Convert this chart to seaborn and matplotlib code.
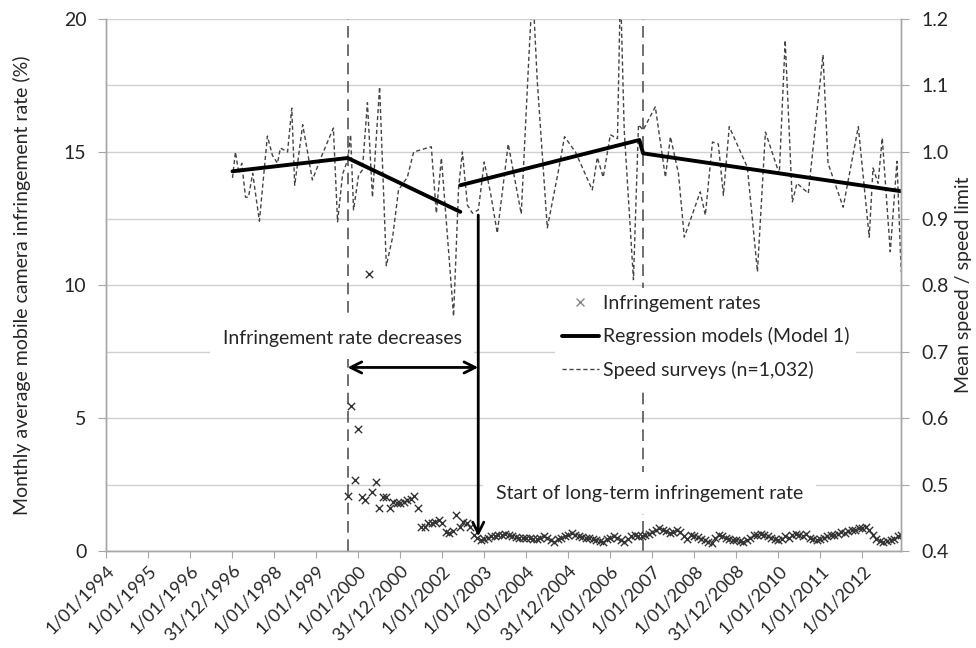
import numpy as np
import pandas as pd
import matplotlib
matplotlib.use("Agg")
import matplotlib.pyplot as plt
import matplotlib.dates as mdates
from matplotlib.lines import Line2D
import seaborn as sns

# ----------------------------------------------------------
# Data
# ----------------------------------------------------------

X_TICK_LABELS = [
    "1/01/1994", "1/01/1995", "1/01/1996", "31/12/1996", "1/01/1998",
    "1/01/1999", "1/01/2000", "31/12/2000", "1/01/2002", "1/01/2003",
    "1/01/2004", "31/12/2004", "1/01/2006", "1/01/2007", "1/01/2008",
    "31/12/2008", "1/01/2010", "1/01/2011", "1/01/2012",
]
AXIS_START = "1994-01-01"
AXIS_END = "2012-12-01"

# monthly infringement rate (%), first month Oct 1999
INFRINGEMENT_START = "1999-10-01"
INFRINGEMENT_RATE = [
    2.05, 5.45, 2.67, 4.57, 2.02, 1.92, 10.4, 2.23, 2.58, 1.60, 2.02, 2.02,
    1.60, 1.85, 1.79, 1.79, 1.85, 1.92, 1.95, 2.07, 1.60, 0.91, 0.91, 1.04,
    1.04, 1.10, 1.17, 1.04, 0.73, 0.67, 0.75, 1.35, 0.91, 1.10, 1.04, 0.91,
    0.60, 0.48,
    0.41, 0.45, 0.50, 0.55, 0.58, 0.60, 0.62, 0.63, 0.60, 0.55, 0.51, 0.50,
    0.48, 0.50, 0.47, 0.45, 0.45, 0.50, 0.56, 0.50, 0.42, 0.35, 0.45, 0.50,
    0.55, 0.60, 0.67, 0.62, 0.55, 0.51, 0.50, 0.48, 0.45, 0.40, 0.38, 0.35,
    0.45, 0.50, 0.58, 0.50, 0.40, 0.35, 0.45, 0.55, 0.60, 0.58, 0.55, 0.60,
    0.65, 0.70, 0.78, 0.85, 0.80, 0.75, 0.67, 0.72, 0.80, 0.70, 0.55, 0.45,
    0.60, 0.55, 0.51, 0.45, 0.40, 0.35, 0.29, 0.50, 0.60, 0.55, 0.50, 0.45,
    0.42, 0.40, 0.38, 0.32, 0.40, 0.50, 0.60, 0.62, 0.64, 0.60, 0.55, 0.50,
    0.45, 0.40, 0.45, 0.55, 0.50, 0.60, 0.64, 0.60, 0.55, 0.64, 0.50, 0.45,
    0.40, 0.45, 0.50, 0.55, 0.60, 0.62, 0.65, 0.72, 0.68, 0.75, 0.80, 0.78,
    0.85, 0.88, 0.91, 0.80, 0.60, 0.45, 0.38, 0.35, 0.36, 0.40, 0.45, 0.55,
    0.62, 0.72, 0.68, 0.72, 0.70,
]

# speed surveys: time (decimal year) and mean speed / speed limit
SURVEY_YEAR = [
    1997.01, 1997.08, 1997.16, 1997.23, 1997.32, 1997.39, 1997.49, 1997.65,
    1997.84, 1997.96, 1998.08, 1998.15, 1998.32, 1998.42, 1998.49, 1998.68,
    1998.77, 1998.91, 1999.15, 1999.41, 1999.51, 1999.63, 1999.75, 1999.82,
    1999.89, 2000.01, 2000.10, 2000.22, 2000.34, 2000.51, 2000.67, 2000.82,
    2000.96, 2001.17, 2001.32, 2001.74, 2001.86, 2001.98, 2002.08, 2002.27,
    2002.39, 2002.48, 2002.60, 2002.72, 2002.86, 2003.00, 2003.15, 2003.31,
    2003.57, 2003.88, 2004.05, 2004.15, 2004.26, 2004.50, 2004.76, 2004.91,
    2005.17, 2005.57, 2005.69, 2005.83, 2006.00, 2006.17, 2006.24, 2006.33,
    2006.55, 2006.67, 2006.78, 2007.07, 2007.31, 2007.43, 2007.62, 2007.76,
    2008.14, 2008.26, 2008.43, 2008.57, 2008.69, 2008.83, 2009.26, 2009.50,
    2009.69, 2010.02, 2010.16, 2010.33, 2010.44, 2010.71, 2011.06, 2011.18,
    2011.54, 2011.90, 2012.16, 2012.25, 2012.37, 2012.47, 2012.66, 2012.82,
    2012.92,
]
SURVEY_RATIO = [
    0.961, 1.000, 0.968, 0.983, 0.932, 0.932, 0.968, 0.896,
    1.024, 0.995, 0.983, 1.006, 1.000, 1.066, 0.950, 1.041,
    1.009, 0.958, 0.997, 1.036, 0.895, 0.967, 0.988, 1.026,
    0.913, 0.965, 0.973, 1.074, 0.932, 1.098, 0.829, 0.872,
    0.943, 0.962, 1.000, 1.008, 0.908, 0.991, 0.910, 0.753,
    0.947, 1.000, 0.920, 0.908, 0.913, 0.985, 0.938, 0.878,
    1.012, 0.907, 1.128, 1.250, 1.108, 0.886, 0.970, 1.023,
    1.000, 0.943, 0.992, 0.962, 1.026, 1.020, 1.250, 1.033,
    0.808, 1.041, 1.033, 1.068, 0.962, 1.023, 0.968, 0.872,
    0.940, 0.905, 1.015, 1.012, 0.935, 1.038, 0.977, 0.820,
    1.030, 0.967, 1.168, 0.925, 0.953, 0.938, 1.146, 0.983,
    0.917, 1.038, 0.872, 0.976, 0.953, 1.021, 0.850, 0.986,
    0.820,
]

# regression models (Model 1), two piecewise segments
REG1_YEAR = [1997.01, 1999.75, 2002.43]
REG1_RATIO = [0.971, 0.991, 0.910]
REG2_YEAR = [2002.43, 2006.69, 2006.78, 2012.92]
REG2_RATIO = [0.950, 1.018, 0.998, 0.941]

# interventions (vertical dashed lines) and the long-term start
EVENT_DATES = ["1999-10-01", "2006-10-12"]
LONG_TERM_DATE = "2002-11-10"

GRID = "#d0d0d0"
SPINE = "#a6a6a6"


def year_to_date(y):
    return pd.Timestamp(AXIS_START) + pd.to_timedelta(
        (np.asarray(y, dtype=float) - 1994) * 365.25, unit="D")


def num(d):
    return mdates.date2num(pd.Timestamp(d))


# ----------------------------------------------------------
# Plot
# ----------------------------------------------------------

sns.set_style("white")
plt.rcParams["font.family"] = ["Lato", "DejaVu Sans"]
plt.rcParams["font.size"] = 14

fig = plt.figure(figsize=(9.76, 6.48), dpi=100)
ax = fig.add_axes([106 / 976, 1 - 551 / 648, 795 / 976, 532 / 648])
ax2 = ax.twinx()
ax.set_zorder(ax2.get_zorder() + 1)
ax.patch.set_visible(False)

inf_dates = pd.date_range(INFRINGEMENT_START, periods=len(INFRINGEMENT_RATE), freq="MS")
sns.scatterplot(x=inf_dates, y=INFRINGEMENT_RATE, ax=ax, marker="x",
                color="#333333", s=28, linewidth=1.0, legend=False)

ax2.yaxis.grid(True, color=GRID, linewidth=1)
for d in EVENT_DATES:
    ax2.axvline(num(d), color="#555555", linewidth=1.2, dashes=(7, 4), zorder=1)

sns.lineplot(x=year_to_date(SURVEY_YEAR), y=SURVEY_RATIO, ax=ax2,
             color="#444444", linewidth=1.0, linestyle=(0, (3, 2)), legend=False)
sns.lineplot(x=year_to_date(REG1_YEAR), y=REG1_RATIO, ax=ax2,
             color="black", linewidth=2.8, legend=False)
sns.lineplot(x=year_to_date(REG2_YEAR), y=REG2_RATIO, ax=ax2,
             color="black", linewidth=2.8, legend=False)

# annotations
box = dict(boxstyle="square,pad=0.65", facecolor="white", edgecolor="none")
ax.text(num(year_to_date(1999.62)), 8.0, "Infringement rate decreases",
        ha="center", va="center", bbox=box, zorder=3)
ax.text(num(year_to_date(2006.93)), 2.18, "Start of long-term infringement rate",
        ha="center", va="center", bbox=box, zorder=3)

ax.annotate("", xy=(num(LONG_TERM_DATE), 6.9), xytext=(num(EVENT_DATES[0]), 6.9),
            arrowprops=dict(arrowstyle="<->", lw=2, color="black",
                            shrinkA=0, shrinkB=0, mutation_scale=20), zorder=4)
ax.annotate("", xy=(num(LONG_TERM_DATE), 0.55), xytext=(num(LONG_TERM_DATE), 12.63),
            arrowprops=dict(arrowstyle="->", lw=2, color="black",
                            shrinkA=0, shrinkB=0, mutation_scale=20), zorder=4)

# axes
ax.set_xlim(num(AXIS_START), num(AXIS_END))
ax.set_ylim(0, 20)
ax2.set_ylim(0.4, 1.2)
ax.set_yticks([0, 5, 10, 15, 20])
ax2.set_yticks(np.round(np.arange(0.4, 1.21, 0.1), 1))
ax2.set_yticklabels([f"{v:.1f}" for v in np.arange(0.4, 1.21, 0.1)])

tick_dates = pd.to_datetime(X_TICK_LABELS, dayfirst=True)
ax.set_xticks(mdates.date2num(tick_dates))
ax.set_xticklabels(X_TICK_LABELS, rotation=45, ha="right",
                   rotation_mode="anchor", fontsize=13)

ax.tick_params(axis="x", length=5, color=SPINE, direction="out", pad=3, bottom=True)
ax.tick_params(axis="y", length=6, color=SPINE, direction="out", pad=8, left=True)
ax2.tick_params(axis="y", length=6, color=SPINE, direction="out", pad=9, right=True)
ax2.tick_params(axis="x", bottom=False, labelbottom=False)

for a in (ax, ax2):
    for s in a.spines.values():
        s.set_color(SPINE)
        s.set_linewidth(1)
    a.set_xlabel("")
ax.spines["top"].set_visible(False)
ax2.spines["top"].set_visible(False)

ax.set_ylabel("Monthly average mobile camera infringement rate (%)", fontsize=14)
ax2.set_ylabel("Mean speed / speed limit", fontsize=14)
ax.yaxis.set_label_coords((31 - 106) / 795, 0.5)
ax2.yaxis.set_label_coords((955 - 106) / 795, 0.5)

handles = [
    Line2D([], [], marker="x", linestyle="none", color="#888888", markersize=6),
    Line2D([], [], color="black", linewidth=2.8),
    Line2D([], [], color="#444444", linewidth=1.0, linestyle=(0, (3, 2))),
]
labels = ["Infringement rates", "Regression models (Model 1)", "Speed surveys (n=1,032)"]
leg = ax.legend(handles, labels, loc="upper left",
                bbox_to_anchor=((555 - 106) / 795, (551 - 288) / 532),
                borderaxespad=0, frameon=True, facecolor="white", edgecolor="none",
                framealpha=1, fancybox=False, handlelength=1.9, handletextpad=0.2,
                labelspacing=0.8, borderpad=0.35)
leg.set_zorder(5)

fig.savefig("out.png", dpi=100)
